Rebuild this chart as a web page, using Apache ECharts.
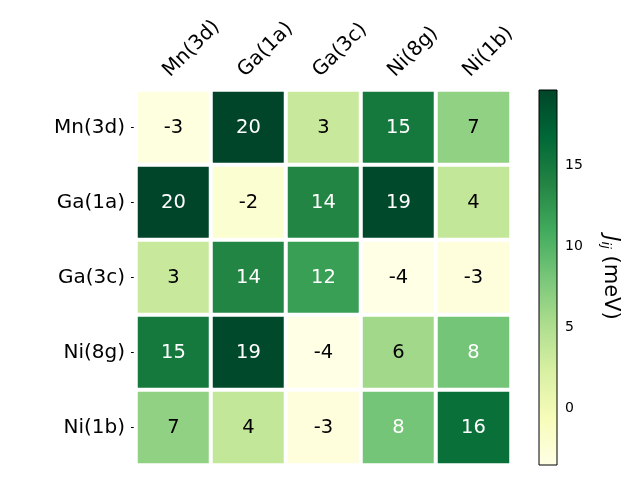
<!DOCTYPE html>
<html>
<head>
<meta charset="utf-8">
<script src="https://cdn.jsdelivr.net/npm/echarts@6/dist/echarts.min.js"></script>
<style>html,body{margin:0;padding:0;background:#fff;}#c{width:640px;height:480px;}</style>
</head>
<body>
<div id="c"></div>
<script>
// ---- data ----
const sites = ['Mn(3d)', 'Ga(1a)', 'Ga(3c)', 'Ni(8g)', 'Ni(1b)'];
// rows follow sites (top to bottom), columns follow sites (left to right)
const rowMn3d = [-3.1, 19.62, 3.4, 15.0, 6.7];
const rowGa1a = [19.62, -2.2, 13.8, 19.2, 3.7];
const rowGa3c = [3.4, 13.8, 11.8, -3.51, -3.0];
const rowNi8g = [15.0, 19.2, -3.51, 5.8, 8.2];
const rowNi1b = [6.7, 3.7, -3.0, 8.2, 15.9];
const matrix = [rowMn3d, rowGa1a, rowGa3c, rowNi8g, rowNi1b];
const colorbarTicks = [0, 5, 10, 15];
const ylgn = ['#ffffe5', '#f7fcb9', '#d9f0a3', '#addd8e', '#78c679', '#41ab5d', '#238443', '#006837', '#004529'];

const FONT = 'DejaVu Sans';
let vmin = Infinity, vmax = -Infinity;
matrix.forEach(r => r.forEach(v => { vmin = Math.min(vmin, v); vmax = Math.max(vmax, v); }));
const thresh = (vmin + vmax) / 2;

const heatData = [];
matrix.forEach((row, i) => row.forEach((v, j) => {
  heatData.push({ value: [j, i, v], label: { color: v > thresh ? '#ffffff' : '#000000' } });
}));

const stops = ylgn.map((c, i) => ({ offset: i / (ylgn.length - 1), color: c }));

const chart = echarts.init(document.getElementById('c'), null, { renderer: 'canvas' });
chart.setOption({
  backgroundColor: '#fff',
  animation: false,
  textStyle: { fontFamily: FONT },
  grid: [
    { left: 136, top: 90, width: 375, height: 375 },
    { left: 539, top: 90, width: 18, height: 375 }
  ],
  xAxis: [
    {
      type: 'category', gridIndex: 0, position: 'top', data: sites,
      axisLine: { show: false },
      axisTick: { show: true, alignWithLabel: true, length: 5, lineStyle: { color: '#000', width: 1 } },
      axisLabel: { rotate: 45, fontSize: 20, color: '#000', fontFamily: FONT, margin: 9, verticalAlign: 'bottom' },
      splitLine: { show: false }
    },
    { type: 'value', gridIndex: 1, min: 0, max: 1, show: false }
  ],
  yAxis: [
    {
      type: 'category', gridIndex: 0, data: sites, inverse: true,
      axisLine: { show: false },
      axisTick: { show: true, alignWithLabel: true, length: 5, lineStyle: { color: '#000', width: 1 } },
      axisLabel: { fontSize: 20, color: '#000', fontFamily: FONT, margin: 11 },
      splitLine: { show: false }
    },
    {
      type: 'value', gridIndex: 0, position: 'right', min: 0, max: 1,
      axisLine: { show: true, lineStyle: { color: '#4a6a55', width: 1 } },
      axisTick: { show: false }, axisLabel: { show: false }, splitLine: { show: false }
    },
    {
      type: 'value', gridIndex: 1, position: 'right', min: vmin, max: vmax,
      axisLine: { show: false },
      axisTick: { show: true, length: 4, customValues: colorbarTicks, lineStyle: { color: '#000' } },
      axisLabel: { show: true, customValues: colorbarTicks, fontSize: 14, color: '#000', fontFamily: FONT, margin: 8 },
      splitLine: { show: false },
      name: '{J|J}{sub|ij} (meV)',
      nameLocation: 'middle', nameRotate: -90, nameGap: 42,
      nameTextStyle: {
        fontSize: 21, color: '#000', fontFamily: FONT,
        rich: {
          J: { fontSize: 21, fontStyle: 'italic', fontFamily: FONT, color: '#000' },
          sub: { fontSize: 13, fontStyle: 'italic', fontFamily: FONT, color: '#000', verticalAlign: 'bottom', padding: [9, 0, 0, 0] }
        }
      }
    }
  ],
  visualMap: {
    show: false, type: 'continuous', min: vmin, max: vmax, dimension: 2, seriesIndex: 0,
    inRange: { color: ylgn }
  },
  series: [
    {
      type: 'heatmap', xAxisIndex: 0, yAxisIndex: 0, data: heatData,
      itemStyle: { borderColor: '#fff', borderWidth: 4 },
      label: {
        show: true, fontSize: 19.5, fontFamily: FONT,
        formatter: p => { const s = p.value[2].toFixed(0); return s === '-0' ? '0' : s; }
      },
      emphasis: { disabled: true }
    },
    {
      type: 'custom', xAxisIndex: 1, yAxisIndex: 2, silent: true,
      data: [[0, vmin, vmax]],
      renderItem: (params, api) => {
        const p0 = api.coord([0, api.value(1)]);
        const p1 = api.coord([1, api.value(2)]);
        return {
          type: 'rect',
          shape: { x: p0[0], y: p1[1], width: p1[0] - p0[0], height: p0[1] - p1[1] },
          style: { fill: new echarts.graphic.LinearGradient(0, 1, 0, 0, stops), stroke: '#000', lineWidth: 1 }
        };
      }
    }
  ]
});
</script>
</body>
</html>
